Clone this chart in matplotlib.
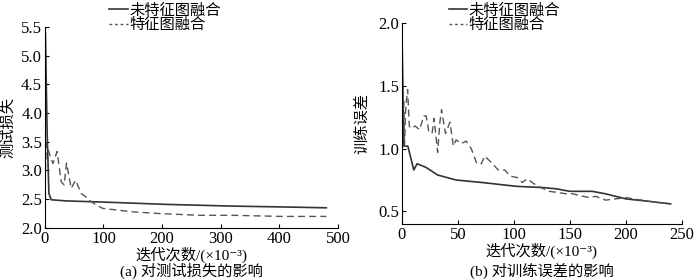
import matplotlib.pyplot as plt
from matplotlib.lines import Line2D

plt.rcParams['font.family'] = ['Liberation Serif', 'Noto Sans CJK SC', 'DejaVu Sans']
plt.rcParams['axes.unicode_minus'] = False

# (a) test loss
loss_x_plain = [0, 1, 4, 7, 11, 37, 100, 206, 319, 432, 480]
loss_plain = [5.5, 5.4, 3.65, 2.6, 2.49, 2.47, 2.45, 2.41, 2.38, 2.36, 2.35]
loss_x_fused = [1, 2.8, 8.5, 14, 21, 28, 33, 37, 45, 52.5, 62, 70, 76, 87.5, 99,
                150, 195, 263, 319, 404, 480]
loss_fused = [3.0, 3.47, 3.27, 3.12, 3.33, 2.8, 2.75, 3.13, 2.69, 2.83, 2.6, 2.54,
              2.48, 2.4, 2.34, 2.28, 2.25, 2.22, 2.22, 2.2, 2.2]

# (b) training error
err_x_plain = [0, 1.8, 5.4, 10.7, 13.7, 21.7, 32, 48.5, 72, 102, 126, 138, 150,
               162, 170, 182, 200, 221, 240]
err_plain = [2.0, 1.02, 1.02, 0.83, 0.88, 0.85, 0.79, 0.75, 0.73, 0.70, 0.69, 0.68,
             0.66, 0.66, 0.66, 0.64, 0.60, 0.58, 0.56]
err_x_fused = [0.9, 1.8, 2.4, 3.6, 5.2, 6.7, 8.2, 12, 15.8, 19.7, 21.8, 24, 27, 28.8,
               30, 32, 34, 35.5, 39, 43, 46, 48.5, 53, 57.5, 62, 67, 71, 74, 80, 86,
               92, 97, 103, 107.6, 112, 118, 124, 132, 147, 153, 162, 168, 173, 182,
               191, 200, 221, 240]
err_fused = [1.31, 1.39, 1.02, 1.34, 1.47, 1.18, 1.16, 1.18, 1.15, 1.26, 1.26, 1.14,
             1.12, 1.24, 1.14, 0.97, 1.21, 1.31, 1.12, 1.21, 1.02, 1.07, 1.04, 1.06,
             1.0, 0.88, 0.88, 0.94, 0.89, 0.83, 0.83, 0.78, 0.77, 0.73, 0.76, 0.72,
             0.69, 0.66, 0.64, 0.64, 0.62, 0.61, 0.62, 0.59, 0.6, 0.61, 0.58, 0.56]

labels = ['未特征图融合', '特征图融合']

fig = plt.figure(figsize=(7, 2.8), dpi=100)
ax1 = fig.add_axes([0.064, 0.186, 0.419, 0.718])
ax2 = fig.add_axes([0.574, 0.200, 0.400, 0.718])

ax1.plot(loss_x_plain, loss_plain, color='#333333', lw=1.2)
ax1.plot(loss_x_fused, loss_fused, color='#555555', lw=1.0, ls=(0, (5, 3)))
ax1.set_xlim(0, 500)
ax1.set_ylim(2.0, 5.5)
ax1.set_xticks([0, 100, 200, 300, 400, 500])
ax1.set_yticks([2.0, 2.5, 3.0, 3.5, 4.0, 4.5, 5.0, 5.5])
ax1.set_yticklabels(['2.0', '2.5', '3.0', '3.5', '4.0', '4.5', '5.0', '5.5'])
ax1.set_ylabel('测试损失', fontsize=11, labelpad=4)

ax2.plot(err_x_plain, err_plain, color='#333333', lw=1.2)
ax2.plot(err_x_fused, err_fused, color='#555555', lw=1.0, ls=(0, (5, 3)))
ax2.set_xlim(0, 250)
ax2.set_ylim(0.4, 2.0)
ax2.set_xticks([0, 50, 100, 150, 200, 250])
ax2.set_yticks([0.5, 1.0, 1.5, 2.0])
ax2.set_yticklabels(['0.5', '1.0', '1.5', '2.0'])
ax2.set_ylabel('训练误差', fontsize=11, labelpad=6)

for ax in (ax1, ax2):
    ax.spines['top'].set_visible(False)
    ax.spines['right'].set_visible(False)
    ax.tick_params(direction='in', length=3, labelsize=12, pad=2)
    ax.set_xlabel('迭代次数/(×10⁻³)', fontsize=11, labelpad=0)

handles = [Line2D([], [], color='#333333', lw=1.2),
           Line2D([], [], color='#555555', lw=1.0, ls=(0, (2, 2)))]
fig.legend(handles, labels, loc='upper left', bbox_to_anchor=(0.143, 1.02),
           frameon=False, fontsize=11, handlelength=1.2, handletextpad=0.1,
           labelspacing=0.0, borderpad=0.1)
fig.legend(handles, labels, loc='upper left', bbox_to_anchor=(0.628, 1.02),
           frameon=False, fontsize=11, handlelength=1.2, handletextpad=0.1,
           labelspacing=0.0, borderpad=0.1)

fig.text(0.274, 0.005, '(a) 对测试损失的影响', ha='center', va='bottom', fontsize=11)
fig.text(0.774, 0.005, '(b) 对训练误差的影响', ha='center', va='bottom', fontsize=11)

fig.savefig('out.png', dpi=100)
